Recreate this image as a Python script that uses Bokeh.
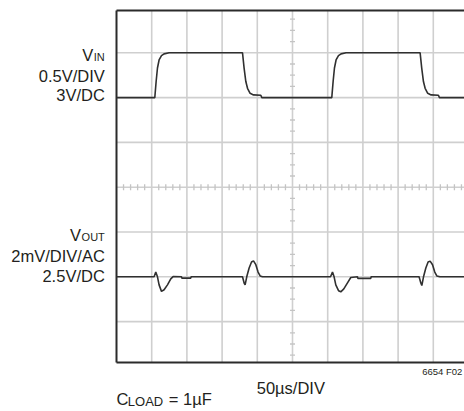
import numpy as np
from bokeh.plotting import figure
from bokeh.models import Range1d, Label
from bokeh.embed import file_html
from bokeh.resources import INLINE

# ---- data ----
# time in microseconds, 50 us per division
vin_t = [0, 54.4, 56.3, 58.2, 60.5, 63.9, 67.6, 74.7,
         179.0, 181.3, 183.7, 186.1, 189.8, 194.6, 205.0, 206.4,
         305.8, 307.7, 309.6, 311.9, 315.3, 319.0, 326.1,
         431.3, 433.6, 436.0, 438.4, 442.1, 446.9, 457.3, 458.7, 494.3]
vin_v = [3.0, 3.0, 3.18, 3.33, 3.42, 3.468, 3.488, 3.5,
         3.5, 3.327, 3.179, 3.104, 3.048, 3.03, 3.026, 3.0,
         3.0, 3.18, 3.33, 3.42, 3.468, 3.488, 3.5,
         3.5, 3.327, 3.179, 3.104, 3.048, 3.03, 3.026, 3.0, 3.0]

vout_t = [0, 53.4, 55.8, 58.2, 60.5, 63.9, 67.6, 72.4, 77.1, 80.4,
          92.3, 92.8, 105.5, 106.0,
          179.0, 181.3, 182.7, 185.1, 188.4, 191.8, 194.6, 197.9, 201.1, 204.0, 207.4,
          304.0, 306.8, 309.1, 311.5, 315.4, 318.6, 322.9, 328.1, 332.8,
          342.3, 342.8, 361.2, 361.7,
          429.8, 432.3, 433.7, 436.1, 439.4, 442.6, 445.5, 448.9, 452.1, 455.0, 459.3,
          494.3]
vout_mv = [0, 0, 0.21, 0, -0.36, -0.65, -0.58, -0.36, -0.09, 0.01,
           0, -0.06, -0.06, 0,
           0, -0.28, -0.36, 0.01, 0.39, 0.66, 0.71, 0.54, 0.21, 0.04, 0,
           0, 0.21, 0, -0.36, -0.62, -0.67, -0.54, -0.27, -0.03,
           0, -0.07, -0.07, 0,
           0, -0.28, -0.39, 0, 0.39, 0.66, 0.70, 0.54, 0.21, 0.04, 0,
           0]

T_PER_DIV = 50.0
VIN_V_PER_DIV, VIN_DC, VIN_POS = 0.5, 3.0, 2.0
VOUT_MV_PER_DIV, VOUT_POS = 2.0, -2.0

vin_div = [VIN_POS + (v - VIN_DC) / VIN_V_PER_DIV for v in vin_v]
vout_div = [VOUT_POS + m / VOUT_MV_PER_DIV for m in vout_mv]

# screen layout: the whole canvas is the frame; scope area drawn inside it
W, H = 464, 411
PX_PER_US = 35.2 / T_PER_DIV
PX_PER_DIV = 44.8
SCOPE_LEFT_PX, CENTER_Y_PX = 116, 186.7
X_START = -SCOPE_LEFT_PX / PX_PER_US
X_END = (W - SCOPE_LEFT_PX) / PX_PER_US
Y_TOP = CENTER_Y_PX / PX_PER_DIV
Y_BOT = -(H - CENTER_Y_PX) / PX_PER_DIV
SC_TOP, SC_BOT = (CENTER_Y_PX - 10) / PX_PER_DIV, -(362 - CENTER_Y_PX) / PX_PER_DIV

p = figure(width=W, height=H, x_range=Range1d(X_START, X_END), y_range=Range1d(Y_BOT, Y_TOP),
           output_backend="svg", toolbar_location=None, x_axis_type=None, y_axis_type=None,
           min_border=0, min_border_left=0, min_border_right=0, min_border_top=0,
           min_border_bottom=0)
p.outline_line_color = None
p.background_fill_color = "white"
p.border_fill_color = "white"

GRID_C = "#cfcfcf"
gx = [T_PER_DIV * k for k in range(1, 10)]
p.segment(x0=gx, y0=[SC_BOT] * len(gx), x1=gx, y1=[SC_TOP] * len(gx),
          line_color=GRID_C, line_width=1.6)
gy = [k for k in range(-3, 4)]
p.segment(x0=[0] * len(gy), y0=gy, x1=[X_END] * len(gy), y1=gy,
          line_color=GRID_C, line_width=1.6)

# minor graticule marks on the centre lines
vt_y = [k * 0.25 for k in range(-15, 16) if k % 4 != 0]
p.scatter(x=[5 * T_PER_DIV] * len(vt_y), y=vt_y, marker="dash", size=5,
          line_color="#c4c4c4", line_width=1.3)
ht_x = [T_PER_DIV / 5 * k for k in range(1, 50) if k % 5 != 0]
p.scatter(x=ht_x, y=[0] * len(ht_x), marker="dash", angle=np.pi / 2, size=6,
          line_color="#c4c4c4", line_width=1.3)

FRAME_C = "#2b2b2b"
p.segment(x0=[0, 0, 0], y0=[SC_BOT, SC_TOP, SC_BOT], x1=[0, X_END, X_END], y1=[SC_TOP, SC_TOP, SC_BOT],
          line_color=FRAME_C, line_width=2)

TRACE_C = "#303030"
p.line(vin_t, vin_div, line_color=TRACE_C, line_width=1.6)
p.line(vout_t, vout_div, line_color=TRACE_C, line_width=1.6)

FONT = "Liberation Sans"
TXT = "#231f20"
BASELINE_FIX = 6  # rendered baseline sits lower than the anchor

def lab(text, px, py, size, align="left"):
    # px, py: page pixel position of the text baseline
    p.add_layout(Label(x=px, y=H - py + BASELINE_FIX, x_units="screen", y_units="screen",
                       text=text, text_font=FONT, text_font_size=f"{size}px", text_color=TXT,
                       text_align=align, text_baseline="alphabetic"))

# V_IN block
lab("V", 92.7, 60, 16.5, "right")
lab("IN", 104.3, 62.7, 11, "right")
lab("0.5V/DIV", 104.3, 81.7, 16.5, "right")
lab("3V/DC", 104.3, 100, 16.5, "right")
# V_OUT block
lab("V", 80.5, 240, 16.5, "right")
lab("OUT", 104.3, 242.7, 11, "right")
lab("2mV/DIV/AC", 104.3, 261.7, 16.5, "right")
lab("2.5V/DC", 104.3, 281, 16.5, "right")
# bottom texts
lab("50µs/DIV", 290.3, 393.3, 16.5, "center")
lab("C", 116, 404, 16.5, "left")
lab("LOAD", 127.3, 407.3, 13, "left")
lab("= 1µF", 168.3, 404, 16.5, "left")
lab("6654 F02", 421.7, 376.7, 9.5, "left")

open("out.html", "w").write(file_html(p, INLINE))
